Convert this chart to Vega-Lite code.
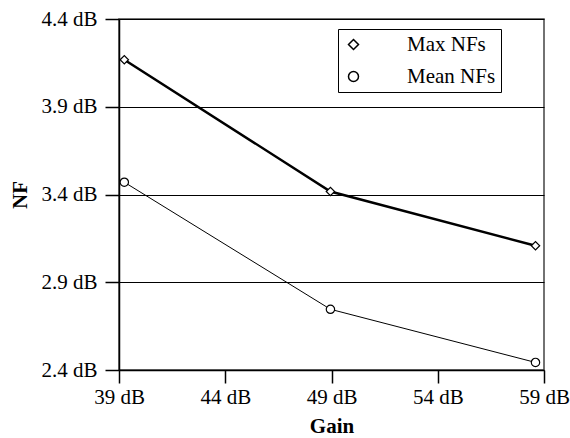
{
  "$schema": "https://vega.github.io/schema/vega-lite/v6.json",
  "width": 425,
  "height": 351,
  "autosize": {"type": "none"},
  "padding": {"left": 119, "top": 19, "right": 26, "bottom": 68},
  "background": "white",
  "config": {
    "font": "Liberation Serif",
    "view": {"stroke": "#444444", "strokeWidth": 1.5},
    "axis": {
      "labelFont": "Liberation Serif",
      "titleFont": "Liberation Serif",
      "labelFontSize": 21,
      "titleFontSize": 21,
      "titleFontWeight": "bold",
      "labelColor": "black",
      "titleColor": "black",
      "domainColor": "black",
      "tickColor": "black",
      "gridColor": "black",
      "gridOpacity": 1,
      "domainWidth": 1.5,
      "tickWidth": 1.5
    },
    "legend": {
      "labelFont": "Liberation Serif",
      "labelFontSize": 21,
      "labelColor": "black"
    }
  },
  "data": {
    "values": [
      {"gain": 39.25, "nf": 4.168, "series": "Max NFs"},
      {"gain": 48.95, "nf": 3.417, "series": "Max NFs"},
      {"gain": 58.6, "nf": 3.108, "series": "Max NFs"},
      {"gain": 39.25, "nf": 3.47, "series": "Mean NFs"},
      {"gain": 48.95, "nf": 2.746, "series": "Mean NFs"},
      {"gain": 58.6, "nf": 2.443, "series": "Mean NFs"}
    ]
  },
  "encoding": {
    "x": {
      "field": "gain",
      "type": "quantitative",
      "scale": {"domain": [39, 59], "nice": false, "zero": false},
      "axis": {
        "title": "Gain",
        "values": [39, 44, 49, 54, 59],
        "labelExpr": "datum.value + ' dB'",
        "grid": false,
        "tickSize": 13,
        "labelPadding": 3,
        "titlePadding": 8,
        "labelFlush": false
      }
    },
    "y": {
      "field": "nf",
      "type": "quantitative",
      "scale": {"domain": [2.4, 4.4], "nice": false, "zero": false},
      "axis": {
        "title": "NF",
        "values": [2.4, 2.9, 3.4, 3.9, 4.4],
        "labelExpr": "format(datum.value, '.1f') + ' dB'",
        "grid": true,
        "gridWidth": 1,
        "tickSize": 14,
        "labelPadding": 8,
        "titleX": -99,
        "titleBaseline": "middle"
      }
    }
  },
  "layer": [
    {
      "transform": [{"filter": "datum.series === 'Max NFs'"}],
      "mark": {"type": "line", "color": "black", "strokeWidth": 2.5},
      "encoding": {}
    },
    {
      "transform": [{"filter": "datum.series === 'Mean NFs'"}],
      "mark": {"type": "line", "color": "black", "strokeWidth": 1},
      "encoding": {}
    },
    {
      "mark": {"type": "point", "filled": true, "fill": "white", "stroke": "black", "strokeWidth": 1.2, "opacity": 1, "size": 70},
      "encoding": {
        "shape": {
          "field": "series",
          "type": "nominal",
          "scale": {"domain": ["Max NFs", "Mean NFs"], "range": ["diamond", "circle"]},
          "legend": {
            "title": null,
            "orient": "none",
            "legendX": 219,
            "legendY": 10,
            "padding": 5,
            "strokeColor": "black",
            "fillColor": "white",
            "symbolSize": 100,
            "labelOffset": 43,
            "rowPadding": 10,
            "encode": {
              "symbols": {
                "update": {
                  "shape": {"signal": "datum.value === 'Max NFs' ? 'M0.2,0L4.2,0M6,0L10,0M5.1,-0.9L6,0L5.1,0.9L4.2,0Z' : 'M0.2,0L4.4,0M5.8,0L10,0M5.8,0A0.7,0.7,0,1,1,4.4,0A0.7,0.7,0,1,1,5.8,0Z'"},
                  "strokeWidth": {"signal": "datum.value === 'Max NFs' ? 2.5 : 1"},
                  "stroke": {"value": "black"},
                  "fill": {"value": "white"},
                  "opacity": {"value": 1}
                }
              }
            }
          }
        }
      }
    }
  ]
}
